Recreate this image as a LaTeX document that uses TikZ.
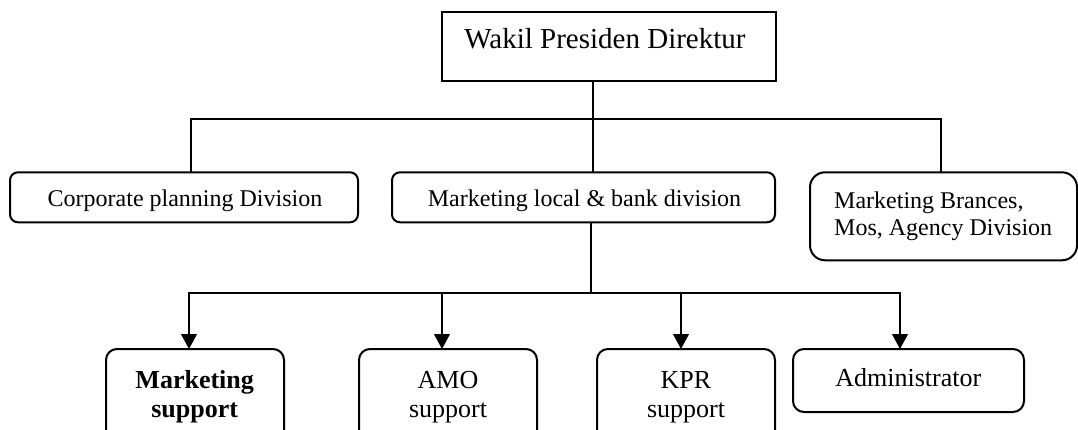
\documentclass[tikz,border=0pt]{standalone}
\usepackage{fontspec}
\setmainfont{Liberation Serif}
\usetikzlibrary{arrows.meta}
\begin{document}
\begin{tikzpicture}[x=1pt,y=-1pt,
  box/.style={draw,line width=2pt,inner sep=0pt,outer sep=0pt},
  conn/.style={line width=2pt},
  tip/.tip={Triangle[width=15.7pt,length=15pt]},
  arr/.style={conn,-tip},
  lbl/.style={anchor=base,inner sep=0pt,font=\fontsize{24}{28}\selectfont},
  big/.style={font=\fontsize{26}{29}\selectfont},
]
\useasboundingbox (0,0) rectangle (1078,430);
\clip (0,0) rectangle (1078,430);
% boxes
\node[box,minimum width=334.3pt,minimum height=69pt] (top) at (609,46.5) {};
\node[box,rounded corners=8pt,minimum width=348pt,minimum height=50pt] (corp) at (184,197.3) {};
\node[box,rounded corners=8pt,minimum width=383pt,minimum height=50pt] (mlb) at (583.5,197.3) {};
\node[box,rounded corners=15pt,minimum width=267pt,minimum height=88pt] (mba) at (943.5,216.3) {};
\node[box,rounded corners=11pt,minimum width=178pt,minimum height=100pt] (ms) at (195,399) {};
\node[box,rounded corners=11pt,minimum width=178pt,minimum height=100pt] (amo) at (448,399) {};
\node[box,rounded corners=11pt,minimum width=178pt,minimum height=100pt] (kpr) at (686,399) {};
\node[box,rounded corners=11pt,minimum width=231pt,minimum height=63pt] (adm) at (908.5,380.5) {};
% texts
\node[lbl,font=\fontsize{29}{34}\selectfont] (ttop) at (605,49) {Wakil Presiden Direktur};
\node[lbl] (tcorp) at (185,206.7) {Corporate planning Division};
\node[lbl] (tmlb) at (584.5,207) {Marketing local \& bank division};
\node[anchor=north west,inner sep=0pt,align=left,font=\fontsize{24}{27.3}\selectfont] (tmba) at (834,191.3) {Marketing Brances,\\Mos, Agency Division};
\node[anchor=north,inner sep=0pt,align=center,big] (tms) at (194.7,370.4) {\textbf{Marketing}\\\textbf{support}};
\node[anchor=north,inner sep=0pt,align=center,big] (tamo) at (448,370.8) {AMO\\support};
\node[anchor=north,inner sep=0pt,align=center,big] (tkpr) at (686,370.8) {KPR\\support};
\node[lbl,big] (tadm) at (908.3,386.7) {Administrator};
% connectors
\coordinate (ja) at (592.5,119.5);
\coordinate (jc) at (191,119.5);
\coordinate (jm) at (941,119.5);
\draw[conn] (top.south -| ja) -- (ja) -- (mlb.north -| ja);
\draw[conn] (corp.north -| jc) -- (jc) -- (jm) -- (mba.north -| jm);
\coordinate (jb) at (591,293.3);
\coordinate (b1) at (189,293.3);
\coordinate (b2) at (442,293.3);
\coordinate (b3) at (681,293.3);
\coordinate (b4) at (900,293.3);
\draw[conn] (mlb.south -| jb) -- (jb);
\draw[conn,tip-tip] (ms.north -| b1) -- (b1) -- (b4) -- (adm.north -| b4);
\draw[arr] (b2) -- (amo.north -| b2);
\draw[arr] (b3) -- (kpr.north -| b3);
\end{tikzpicture}
\end{document}
